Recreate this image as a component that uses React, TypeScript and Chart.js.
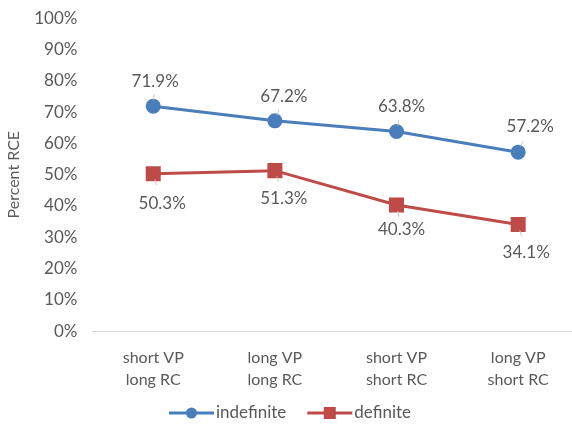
import React, { useEffect, useRef } from "react";
import { Chart, registerables } from "chart.js";

Chart.register(...registerables);

const categories: string[][] = [
  ["short VP", "long RC"],
  ["long VP", "long RC"],
  ["short VP", "short RC"],
  ["long VP", "short RC"],
];
const indefiniteValues = [71.9, 67.2, 63.8, 57.2];
const definiteValues = [50.3, 51.3, 40.3, 34.1];
const yTicks = [0, 10, 20, 30, 40, 50, 60, 70, 80, 90, 100];
const seriesNames = ["indefinite", "definite"];

const BLUE = "#4a7ebb";
const RED = "#be4b48";
const TEXT = "#595959";
const FONT = "Lato, 'Open Sans', sans-serif";

// label placement offsets (pixels) relative to each point
const labelOffsets: Record<number, [number, number][]> = {
  0: [[2, -25], [9, -24], [5, -25], [12, -26]],
  1: [[9, 30], [9, 28], [5, 24], [8, 28]],
};

const labelPlugin = {
  id: "pctLabels",
  afterDatasetsDraw(chart: any) {
    const ctx = chart.ctx;
    ctx.save();
    ctx.font = `17px ${FONT}`;
    ctx.fillStyle = TEXT;
    ctx.textAlign = "center";
    ctx.textBaseline = "middle";
    chart.data.datasets.forEach((ds: any, di: number) => {
      const meta = chart.getDatasetMeta(di);
      meta.data.forEach((pt: any, i: number) => {
        const [dx, dy] = labelOffsets[di][i];
        const lx = pt.x + dx;
        const ly = pt.y + dy;
        const ang = Math.atan2(dy, dx);
        ctx.strokeStyle = "#c8c8c8";
        ctx.lineWidth = 1;
        ctx.beginPath();
        ctx.moveTo(pt.x + Math.cos(ang) * 6, pt.y + Math.sin(ang) * 6);
        ctx.lineTo(pt.x + Math.cos(ang) * 12, pt.y + Math.sin(ang) * 12);
        ctx.stroke();
        ctx.fillText(ds.data[i].toFixed(1) + "%", lx, ly);
      });
    });
    ctx.restore();
  },
};

const legendPlugin = {
  id: "lineLegend",
  afterDraw(chart: any) {
    const ctx = chart.ctx;
    ctx.save();
    ctx.font = `17px ${FONT}`;
    const symW = 45;
    const gap = 2;
    const spacing = 21;
    const widths = chart.data.datasets.map((ds: any) => ctx.measureText(ds.label).width);
    const total = widths.reduce((a: number, w: number) => a + symW + gap + w, 0) + spacing * (widths.length - 1);
    let x = 290 - total / 2;
    const y = chart.height - 20;
    chart.data.datasets.forEach((ds: any, i: number) => {
      const color = ds.borderColor;
      ctx.strokeStyle = color;
      ctx.lineWidth = 3;
      ctx.beginPath();
      ctx.moveTo(x, y);
      ctx.lineTo(x + symW, y);
      ctx.stroke();
      ctx.fillStyle = color;
      if (ds.pointStyle === "rect") {
        ctx.fillRect(x + symW / 2 - 6, y - 6, 12, 12);
      } else {
        ctx.beginPath();
        ctx.arc(x + symW / 2, y, 5.5, 0, Math.PI * 2);
        ctx.fill();
      }
      ctx.fillStyle = TEXT;
      ctx.textAlign = "left";
      ctx.textBaseline = "middle";
      ctx.fillText(ds.label, x + symW + gap, y);
      x += symW + gap + widths[i] + spacing;
    });
    ctx.restore();
  },
};

export default function App() {
  const ref = useRef<HTMLCanvasElement | null>(null);
  useEffect(() => {
    if (!ref.current) return;
    const chart = new Chart(ref.current, {
      type: "line",
      data: {
        labels: categories,
        datasets: [
          {
            label: seriesNames[0],
            data: indefiniteValues,
            borderColor: BLUE,
            backgroundColor: BLUE,
            borderWidth: 3,
            pointStyle: "circle",
            pointRadius: 6,
            pointHoverRadius: 6,
            tension: 0,
          },
          {
            label: seriesNames[1],
            data: definiteValues,
            borderColor: RED,
            backgroundColor: RED,
            borderWidth: 3,
            pointStyle: "rect",
            pointRadius: 8.5,
            pointHoverRadius: 8.5,
            tension: 0,
          },
        ],
      },
      options: {
        animation: false,
        responsive: false,
        maintainAspectRatio: false,
        layout: { autoPadding: false, padding: { top: 0, left: 4, right: 21, bottom: 27 } },
        plugins: {
          tooltip: { enabled: false },
          legend: { display: false },
        },
        scales: {
          x: {
            offset: true,
            grid: { display: false, drawTicks: false },
            border: { display: true, color: "#d9d9d9", width: 1 },
            ticks: { color: TEXT, font: { family: FONT, size: 16, lineHeight: 1.4 }, padding: 15, maxRotation: 0 },
          },
          y: {
            min: 0,
            max: 100,
            afterBuildTicks: (axis: any) => {
              axis.ticks = yTicks.map((v) => ({ value: v }));
            },
            grid: { display: false, drawTicks: false },
            border: { display: false },
            ticks: {
              color: TEXT,
              font: { family: FONT, size: 17 },
              padding: 15,
              callback: (v: any) => v + "%",
            },
            title: {
              display: true,
              text: "Percent RCE",
              color: TEXT,
              font: { family: FONT, size: 16 },
              padding: { top: 0, bottom: -4 },
            },
          },
        },
      },
      plugins: [labelPlugin, legendPlugin],
    });
    return () => chart.destroy();
  }, []);
  return (
    <div style={{ position: "absolute", left: 0, top: 0, width: 572, height: 432, overflow: "hidden", background: "#fff" }}>
      <canvas ref={ref} width={600} height={440} style={{ display: "block", marginTop: -7 }} />
    </div>
  );
}
